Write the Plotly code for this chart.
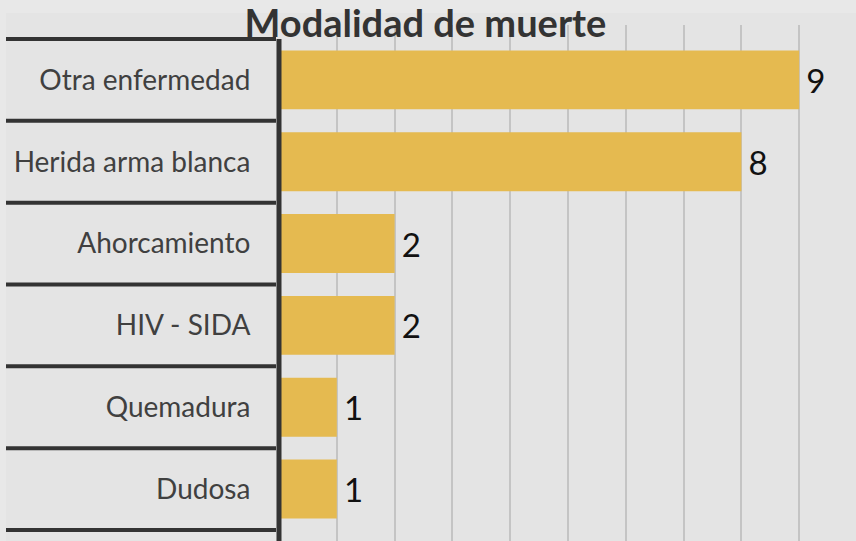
import plotly.graph_objects as go

categories = ["Otra enfermedad", "Herida arma blanca", "Ahorcamiento", "HIV - SIDA", "Quemadura", "Dudosa"]
values = [9, 8, 2, 2, 1, 1]
title_text = "Modalidad de muerte"

W, H = 856, 541
L, T = 279, 25
plot_w = W - L
px_per_unit = 57.8
y_top = -0.671
y_bottom = 5.635

fig = go.Figure()
fig.add_trace(go.Bar(
    x=values, y=categories, orientation="h",
    marker=dict(color="#E5BA50", line=dict(width=0)),
    width=0.72,
    text=["\u2009" + str(v) for v in values], textposition="outside",
    textfont=dict(family="Lato", size=33, color="#111111"),
    cliponaxis=False,
    hoverinfo="skip",
))

shapes = []
# background inner panel
shapes.append(dict(type="rect", xref="paper", yref="paper", layer="below",
                   x0=(6 - L) / plot_w, x1=(W + 5 - L) / plot_w,
                   y0=-0.1, y1=1 + (T - 13) / (H - T),
                   fillcolor="#e4e4e4", line=dict(width=0)))
# separators between categories (left of axis)
for i in range(len(categories) + 1):
    shapes.append(dict(type="line", xref="paper", yref="y",
                       x0=(6 - L) / plot_w, x1=(276 - L) / plot_w,
                       y0=i - 0.5, y1=i - 0.5,
                       line=dict(color="#333333", width=4)))
# axis line
shapes.append(dict(type="line", xref="paper", yref="y",
                   x0=0, x1=0, y0=-0.5, y1=y_bottom,
                   line=dict(color="#333333", width=5)))

fig.update_layout(
    width=W, height=H,
    margin=dict(l=L, r=0, t=T, b=0, pad=0),
    paper_bgcolor="#e8e8e8",
    plot_bgcolor="#e4e4e4",
    showlegend=False,
    bargap=0.28,
    shapes=shapes,
    title=dict(text="<b>" + title_text + "</b>", x=0.497, xref="container", xanchor="center",
               y=1 - 24 / H, yref="container", yanchor="middle",
               font=dict(family="Lato", size=38, color="#333333")),
    xaxis=dict(range=[0, plot_w / px_per_unit], dtick=1, tick0=0,
               showgrid=True, gridcolor="#c4c4c4", gridwidth=2,
               zeroline=False, showticklabels=False, ticks="", showline=False,
               fixedrange=True),
    yaxis=dict(categoryorder="array", categoryarray=categories,
               range=[y_bottom, y_top], showgrid=False, zeroline=False,
               showline=False, ticks="outside", ticklen=22, tickcolor="rgba(0,0,0,0)",
               tickfont=dict(family="Lato", size=28, color="#404040"),
               fixedrange=True),
)

fig.write_html(
    "out.html",
    config={"displayModeBar": False},
    post_script="document.body.style.margin='0';document.body.style.overflow='hidden';"
                "document.body.style.background='#e8e8e8';",
)
